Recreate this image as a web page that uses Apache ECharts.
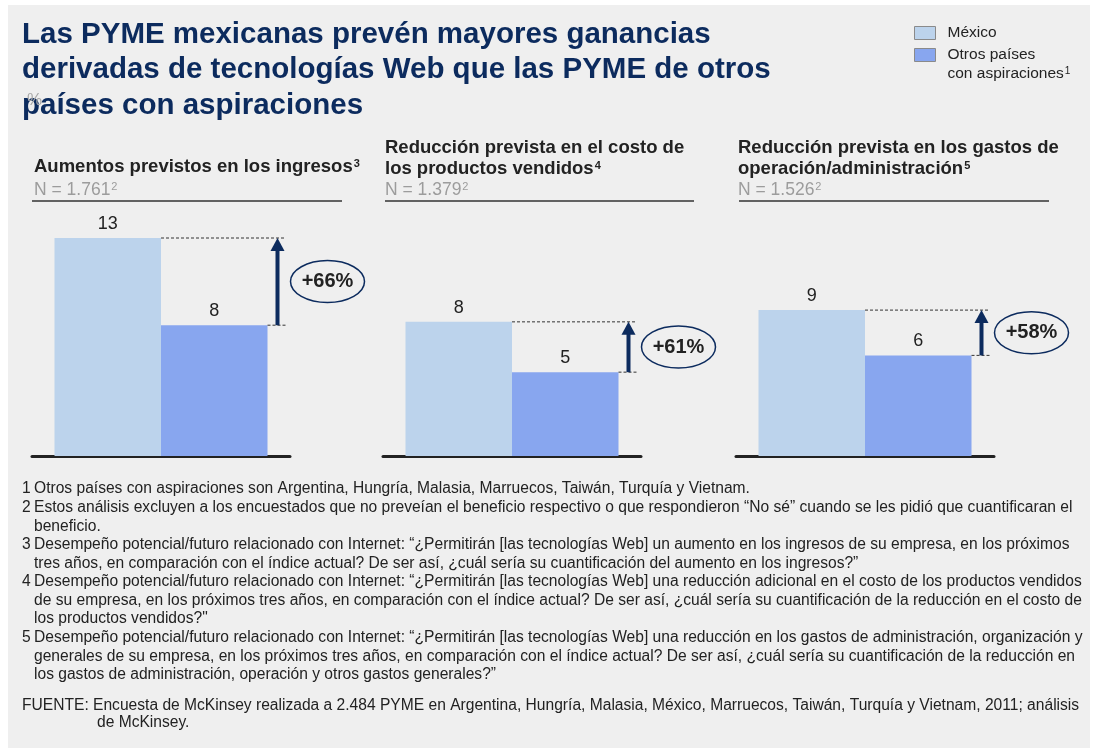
<!DOCTYPE html>
<html>
<head>
<meta charset="utf-8">
<script src="https://cdn.jsdelivr.net/npm/echarts@6/dist/echarts.min.js"></script>
<style>
html,body{margin:0;padding:0;background:#ffffff;}
#chart{width:1095px;height:752px;}
</style>
</head>
<body>
<div id="chart"></div>
<script>
// ---- data ----
const seriesNames = ['México', 'Otros países con aspiraciones'];
const panelTitles = [
  'Aumentos previstos en los ingresos',
  'Reducción prevista en el costo de\nlos productos vendidos',
  'Reducción prevista en los gastos de\noperación/administración'
];
const panelNotes = ['3', '4', '5'];
const sampleSizes = ['1.761', '1.379', '1.526'];
const mexico = [13.0, 8.0, 8.7];
const otros = [7.8, 5.0, 6.0];
const increaseLabels = ['+66%', '+61%', '+58%'];

const titleText = 'Las PYME mexicanas prevén mayores ganancias\nderivadas de tecnologías Web que las PYME de otros\npaíses con aspiraciones';
const footnotes = [
  ['1', 'Otros países con aspiraciones son Argentina, Hungría, Malasia, Marruecos, Taiwán, Turquía y Vietnam.'],
  ['2', 'Estos análisis excluyen a los encuestados que no preveían el beneficio respectivo o que respondieron “No sé” cuando se les pidió que cuantificaran el\nbeneficio.'],
  ['3', 'Desempeño potencial/futuro relacionado con Internet: “¿Permitirán [las tecnologías Web] un aumento en los ingresos de su empresa, en los próximos\ntres años, en comparación con el índice actual? De ser así, ¿cuál sería su cuantificación del aumento en los ingresos?”'],
  ['4', 'Desempeño potencial/futuro relacionado con Internet: “¿Permitirán [las tecnologías Web] una reducción adicional en el costo de los productos vendidos\nde su empresa, en los próximos tres años, en comparación con el índice actual? De ser así, ¿cuál sería su cuantificación de la reducción en el costo de\nlos productos vendidos?"'],
  ['5', 'Desempeño potencial/futuro relacionado con Internet: “¿Permitirán [las tecnologías Web] una reducción en los gastos de administración, organización y\ngenerales de su empresa, en los próximos tres años, en comparación con el índice actual? De ser así, ¿cuál sería su cuantificación de la reducción en\nlos gastos de administración, operación y otros gastos generales?”']
];
const sourceText = 'FUENTE: Encuesta de McKinsey realizada a 2.484 PYME en Argentina, Hungría, Malasia, México, Marruecos, Taiwán, Turquía y Vietnam, 2011; análisis';
const sourceText2 = 'de McKinsey.';

// ---- styles / layout ----
const FONT = '"Liberation Sans", Arial, sans-serif';
const NAVY = '#0c2b5e';
const TXT = '#222222';
const C_MEX = '#bcd3ec';
const C_OTR = '#88a6ef';
const BAR_W = 106.5;
const gridLefts = [32, 383, 736];
const GRID_W = 258;
const headerX = [34, 385, 738];
const underline = [[32, 342], [385, 694], [739, 1049]];
const NOTE_FS = 15.6;

const chart = echarts.init(document.getElementById('chart'), null, {renderer: 'canvas'});

const grids = [], xAxes = [], yAxes = [], series = [];
for (let i = 0; i < 3; i++) {
  grids.push({left: gridLefts[i], width: GRID_W, top: 238, bottom: 296});
  xAxes.push({
    type: 'category', gridIndex: i, data: [''],
    axisTick: {show: false}, axisLabel: {show: false},
    axisLine: {show: true, lineStyle: {color: '#222', width: 3}}
  });
  yAxes.push({type: 'value', gridIndex: i, min: 0, max: 13, show: false, splitLine: {show: false}});
  const labelCfg = {
    show: true, position: 'top', distance: 5, fontSize: 18, color: TXT, fontFamily: FONT,
    formatter: p => String(Math.round(p.value))
  };
  series.push({
    name: seriesNames[0], type: 'bar', xAxisIndex: i, yAxisIndex: i,
    data: [mexico[i]], barWidth: BAR_W, barGap: '0%',
    itemStyle: {color: C_MEX}, label: labelCfg, silent: true
  });
  series.push({
    name: seriesNames[1], type: 'bar', xAxisIndex: i, yAxisIndex: i,
    data: [otros[i]], barWidth: BAR_W, barGap: '0%',
    itemStyle: {color: C_OTR}, label: labelCfg, silent: true
  });
  series.push({
    type: 'custom', xAxisIndex: i, yAxisIndex: i, silent: true, z: 5,
    data: [[0, mexico[i], otros[i], i]],
    renderItem: function (params, api) {
      const pM = api.coord([api.value(0), api.value(1)]);
      const pO = api.coord([api.value(0), api.value(2)]);
      const cx = pM[0];
      const right = cx + BAR_W;
      const ax = right + 10;
      const dashEnd = right + 18;
      const yM = pM[1], yO = pO[1];
      const ex = ax + 50, ey = (yM + yO) / 2;
      const dash = {stroke: '#333', lineWidth: 1, lineDash: [3, 2]};
      return {
        type: 'group',
        children: [
          {type: 'line', shape: {x1: cx, y1: yM, x2: dashEnd, y2: yM}, style: dash},
          {type: 'line', shape: {x1: right, y1: yO, x2: dashEnd, y2: yO}, style: dash},
          {type: 'line', shape: {x1: ax, y1: yO, x2: ax, y2: yM + 12}, style: {stroke: NAVY, lineWidth: 4}},
          {type: 'polygon', shape: {points: [[ax, yM], [ax - 7, yM + 13], [ax + 7, yM + 13]]}, style: {fill: NAVY}},
          {type: 'ellipse', shape: {cx: ex, cy: ey, rx: 37, ry: 21}, style: {fill: 'none', stroke: NAVY, lineWidth: 1.5}},
          {type: 'text', x: ex, y: ey, style: {text: increaseLabels[api.value(3)], align: 'center', verticalAlign: 'middle',
            fontSize: 20, fontWeight: 'bold', fontFamily: FONT, fill: TXT}}
        ]
      };
    }
  });
}

// graphics: background, titles, headers, footnotes
const graphics = [];
graphics.push({type: 'rect', z: -10, shape: {x: 8, y: 5, width: 1082, height: 743}, style: {fill: '#efefef'}, silent: true});
graphics.push({type: 'text', x: 22, y: 17, style: {text: titleText, fontSize: 29.5, fontWeight: 'bold', fontFamily: FONT,
  fill: NAVY, lineHeight: 35.5, verticalAlign: 'top'}});
graphics.push({type: 'text', x: 27, y: 100, style: {text: '%', fontSize: 17, fontFamily: FONT, fill: '#a8a8a8', verticalAlign: 'middle'}});

for (let i = 0; i < 3; i++) {
  const lines = panelTitles[i].split('\n');
  const nLines = lines.length;
  const rich = '{h|' + lines.join('}\n{h|') + '}{s|' + panelNotes[i] + '}';
  const topY = nLines === 1 ? 156 : 137;
  graphics.push({type: 'text', x: headerX[i], y: topY, style: {
    text: rich, verticalAlign: 'top',
    rich: {
      h: {fontSize: 18.5, fontWeight: 'bold', fontFamily: FONT, fill: TXT, lineHeight: 21},
      s: {fontSize: 11, fontWeight: 'bold', fontFamily: FONT, fill: TXT, lineHeight: 21, verticalAlign: 'top', padding: [2, 0, 0, 1]}
    }}});
  graphics.push({type: 'text', x: headerX[i], y: 190, style: {
    text: '{n|N = ' + sampleSizes[i] + '}{s|2}', verticalAlign: 'middle',
    rich: {
      n: {fontSize: 17.5, fontFamily: FONT, fill: '#9c9c9c', lineHeight: 19},
      s: {fontSize: 11, fontFamily: FONT, fill: '#9c9c9c', lineHeight: 19, verticalAlign: 'top', padding: [1, 0, 0, 1]}
    }}});
  graphics.push({type: 'line', shape: {x1: underline[i][0], y1: 201, x2: underline[i][1], y2: 201},
    style: {stroke: '#333', lineWidth: 1.5}});
}

const noteY = [489, 508, 545, 582, 638];
const LH = 18.4;
footnotes.forEach((f, k) => {
  graphics.push({type: 'text', x: 22, y: noteY[k] - LH / 2, style: {text: f[0], fontSize: NOTE_FS, fontFamily: FONT, fill: TXT,
    lineHeight: LH, verticalAlign: 'top'}});
  graphics.push({type: 'text', x: 34, y: noteY[k] - LH / 2, style: {text: f[1], fontSize: NOTE_FS, fontFamily: FONT, fill: TXT,
    lineHeight: LH, verticalAlign: 'top'}});
});
graphics.push({type: 'text', x: 22, y: 706 - LH / 2, style: {text: sourceText, fontSize: NOTE_FS, fontFamily: FONT, fill: TXT,
  lineHeight: LH, verticalAlign: 'top'}});
graphics.push({type: 'text', x: 97, y: 723 - LH / 2, style: {text: sourceText2, fontSize: NOTE_FS, fontFamily: FONT, fill: TXT,
  lineHeight: LH, verticalAlign: 'top'}});

const legendBase = {
  orient: 'vertical', left: 914, padding: 0, icon: 'rect', itemWidth: 21, itemHeight: 13,
  selectedMode: false, itemStyle: {borderColor: '#8a8a8a', borderWidth: 1}
};

chart.setOption({
  animation: false,
  backgroundColor: '#ffffff',
  textStyle: {fontFamily: FONT},
  grid: grids,
  xAxis: xAxes,
  yAxis: yAxes,
  legend: [
    Object.assign({}, legendBase, {
      top: 25, data: [seriesNames[0]],
      textStyle: {fontSize: 15.5, color: TXT, fontFamily: FONT, padding: [0, 0, 0, 7]}
    }),
    Object.assign({}, legendBase, {
      top: 47, data: [seriesNames[1]],
      formatter: () => '{a|Otros países}\n{a|con aspiraciones}{s|1}',
      textStyle: {fontSize: 15.5, color: TXT, fontFamily: FONT, padding: [19, 0, 0, 7],
        rich: {
          a: {fontSize: 15.5, color: TXT, fontFamily: FONT, lineHeight: 19},
          s: {fontSize: 10, color: TXT, fontFamily: FONT, lineHeight: 19, verticalAlign: 'top', padding: [2, 0, 0, 1]}
        }}
    })
  ],
  graphic: graphics,
  series: series
});
</script>
</body>
</html>
